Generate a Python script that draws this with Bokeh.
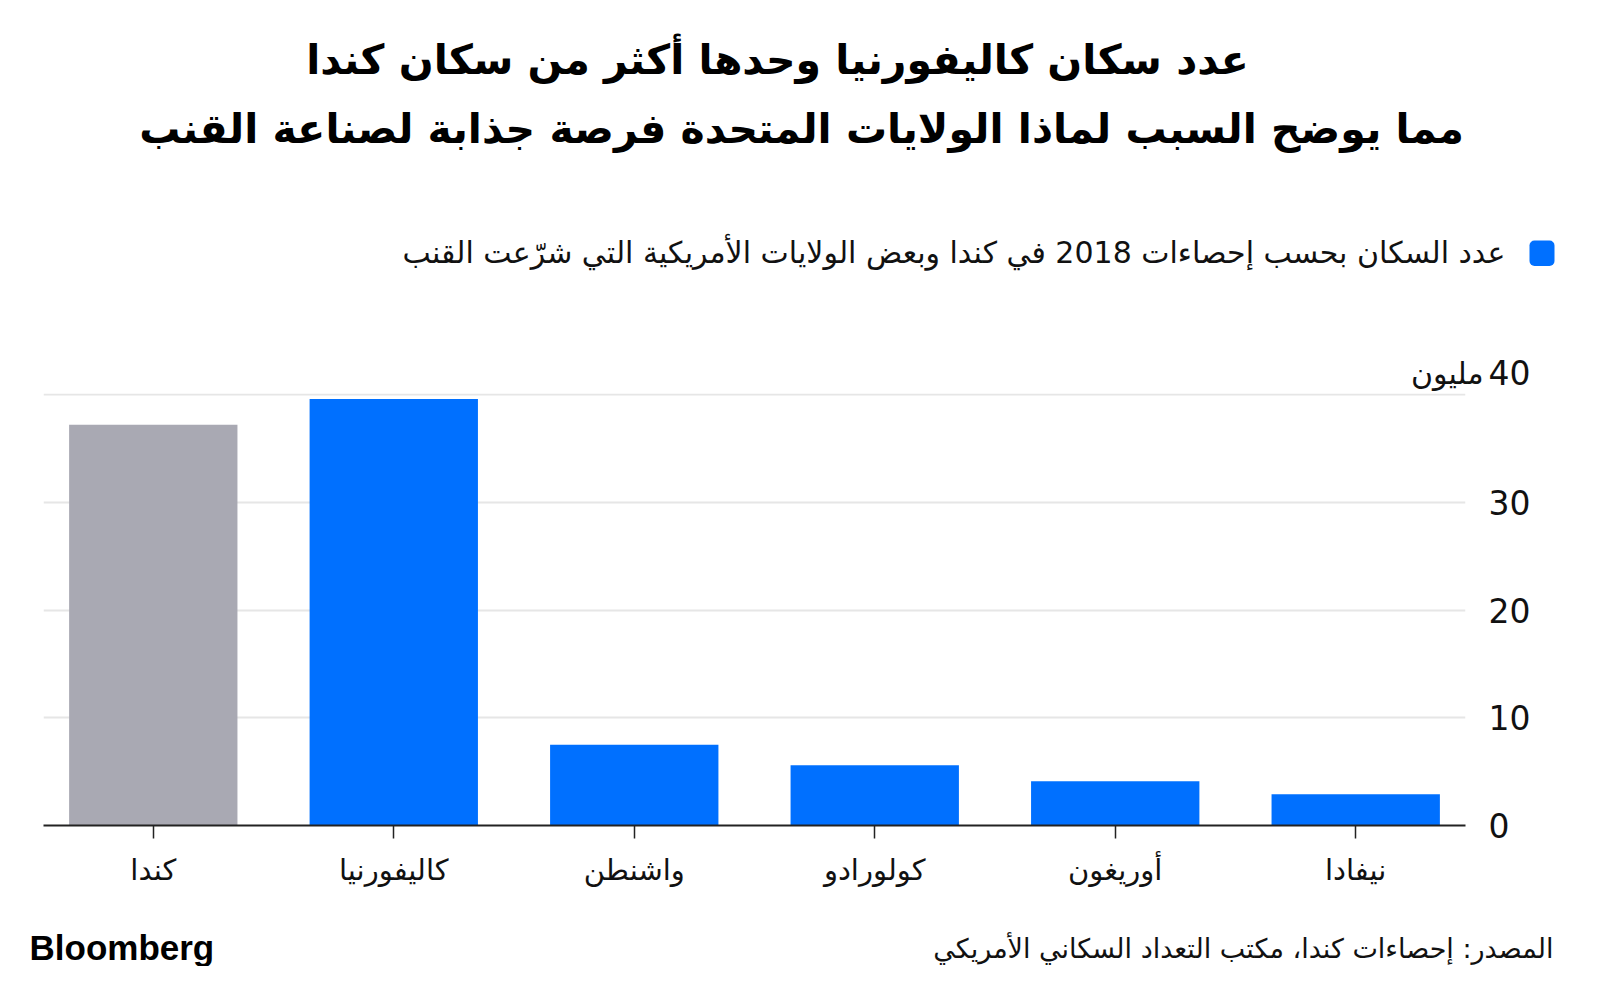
from bokeh.plotting import figure
from bokeh.models import ColumnDataSource, FactorRange, Range1d, FixedTicker, Label, BoxAnnotation
from bokeh.embed import file_html
from bokeh.resources import INLINE

# ---- data ----
categories = ["كندا", "كاليفورنيا", "واشنطن", "كولورادو", "أوريغون", "نيفادا"]
population_millions = [37.2, 39.6, 7.5, 5.6, 4.1, 2.9]
y_ticks = [0, 10, 20, 30, 40]
highlight_category = "كندا"

title_line1 = "عدد سكان كاليفورنيا وحدها أكثر من سكان كندا"
title_line2 = "مما يوضح السبب لماذا الولايات المتحدة فرصة جذابة لصناعة القنب"
legend_text = "عدد السكان بحسب إحصاءات 2018 في كندا وبعض الولايات الأمريكية التي شرّعت القنب"
unit_text = "مليون"
source_text = "المصدر: إحصاءات كندا، مكتب التعداد السكاني الأمريكي"
brand_text = "Bloomberg"

BLUE = "#0070FF"
GRAY = "#A9A9B3"
AR_FONT = "DejaVu Sans"
NUM_FONT = "DejaVu Sans"

W = 1584
H_HEAD, H_CHART, H_FOOT = 393, 507, 66
CH_TOP = H_HEAD  # chart figure's top in page coords
AXIS_Y = 825     # page y of the zero line
PX_PER_UNIT = 10.77
BASE_SHIFT = 0.37  # rendered baseline sits this many em below the anchor


def blank_fig(h):
    f = figure(width=W, height=h, x_range=Range1d(0, W), y_range=Range1d(0, h),
               x_axis_type=None, y_axis_type=None, min_border=0,
               output_backend="svg", toolbar_location=None)
    f.outline_line_color = None
    f.background_fill_color = "white"
    f.border_fill_color = "white"
    f.grid.visible = False
    return f


def add_label(f, top_page, h, text, X, Y, size, align="left", bold=False,
              font=AR_FONT, color="#111111"):
    y_anchor = Y - BASE_SHIFT * size
    f.add_layout(Label(
        x=X, y=(top_page + h) - y_anchor, text=text,
        text_font=font, text_font_size=f"{size}px", text_align=align,
        text_baseline="alphabetic", text_color=color,
        text_font_style="bold" if bold else "normal",
    ))


# ---- header ----
head = blank_fig(H_HEAD)
add_label(head, 0, H_HEAD, title_line1, 777, 75, 41, align="center", bold=True, color="#000000")
add_label(head, 0, H_HEAD, title_line2, 801, 144, 41, align="center", bold=True, color="#000000")
add_label(head, 0, H_HEAD, legend_text, 1505, 263, 30, align="right")
add_label(head, 0, H_HEAD, str(y_ticks[-1]), 1488, 384, 33, align="left", font=NUM_FONT)
add_label(head, 0, H_HEAD, unit_text, 1483, 384, 30, align="right")
head.add_layout(BoxAnnotation(
    left=1529, right=1554, top=H_HEAD - 240, bottom=H_HEAD - 265.5,
    fill_color=BLUE, fill_alpha=1.0, line_color=None, border_radius=5,
))

# ---- chart ----
colors = [GRAY if c == highlight_category else BLUE for c in categories]
src = ColumnDataSource(dict(cat=categories, val=population_millions, color=colors))

y_end = (AXIS_Y - CH_TOP) / PX_PER_UNIT
p = figure(
    width=W, height=H_CHART,
    x_range=FactorRange(*categories, range_padding=-0.0145),
    y_range=Range1d(0, y_end),
    output_backend="svg", toolbar_location=None,
    min_border_left=43, min_border_right=W - 1465, min_border_top=0,
    min_border_bottom=(CH_TOP + H_CHART) - AXIS_Y,
    y_axis_location="right",
)
p.outline_line_color = None
p.background_fill_color = "white"
p.border_fill_color = "white"

p.vbar(x="cat", top="val", width=0.7, source=src, fill_color="color", line_color=None)

xa = p.xaxis[0]
xa.axis_line_color = "#222222"
xa.axis_line_width = 2
xa.major_tick_line_color = "#222222"
xa.major_tick_line_width = 1.5
xa.major_tick_out = 13
xa.major_tick_in = 0
xa.minor_tick_line_color = None
xa.major_label_standoff = 14
xa.major_label_text_font = AR_FONT
xa.major_label_text_font_size = "29px"
xa.major_label_text_color = "#111111"
p.xgrid.grid_line_color = None

ya = p.yaxis[0]
ya.ticker = FixedTicker(ticks=y_ticks)
ya.axis_line_color = None
ya.major_tick_line_color = None
ya.major_tick_out = 0
ya.major_tick_in = 0
ya.minor_tick_line_color = None
ya.major_label_standoff = 23
ya.major_label_text_font = NUM_FONT
ya.major_label_text_font_size = "33px"
ya.major_label_text_color = "#111111"
ya.major_label_overrides = {40: ""}
p.ygrid.grid_line_color = "#E6E6E6"
p.ygrid.grid_line_width = 2
p.ygrid.ticker = FixedTicker(ticks=y_ticks)

# ---- footer ----
FT = H_HEAD + H_CHART
foot = blank_fig(H_FOOT)
add_label(foot, FT, H_FOOT, brand_text, 29, 960, 35, align="left", bold=True,
          font="Liberation Sans", color="#000000")
add_label(foot, FT, H_FOOT, source_text, 1553, 958, 27, align="right")

open("out.html", "w").write(file_html([head, p, foot], INLINE))
